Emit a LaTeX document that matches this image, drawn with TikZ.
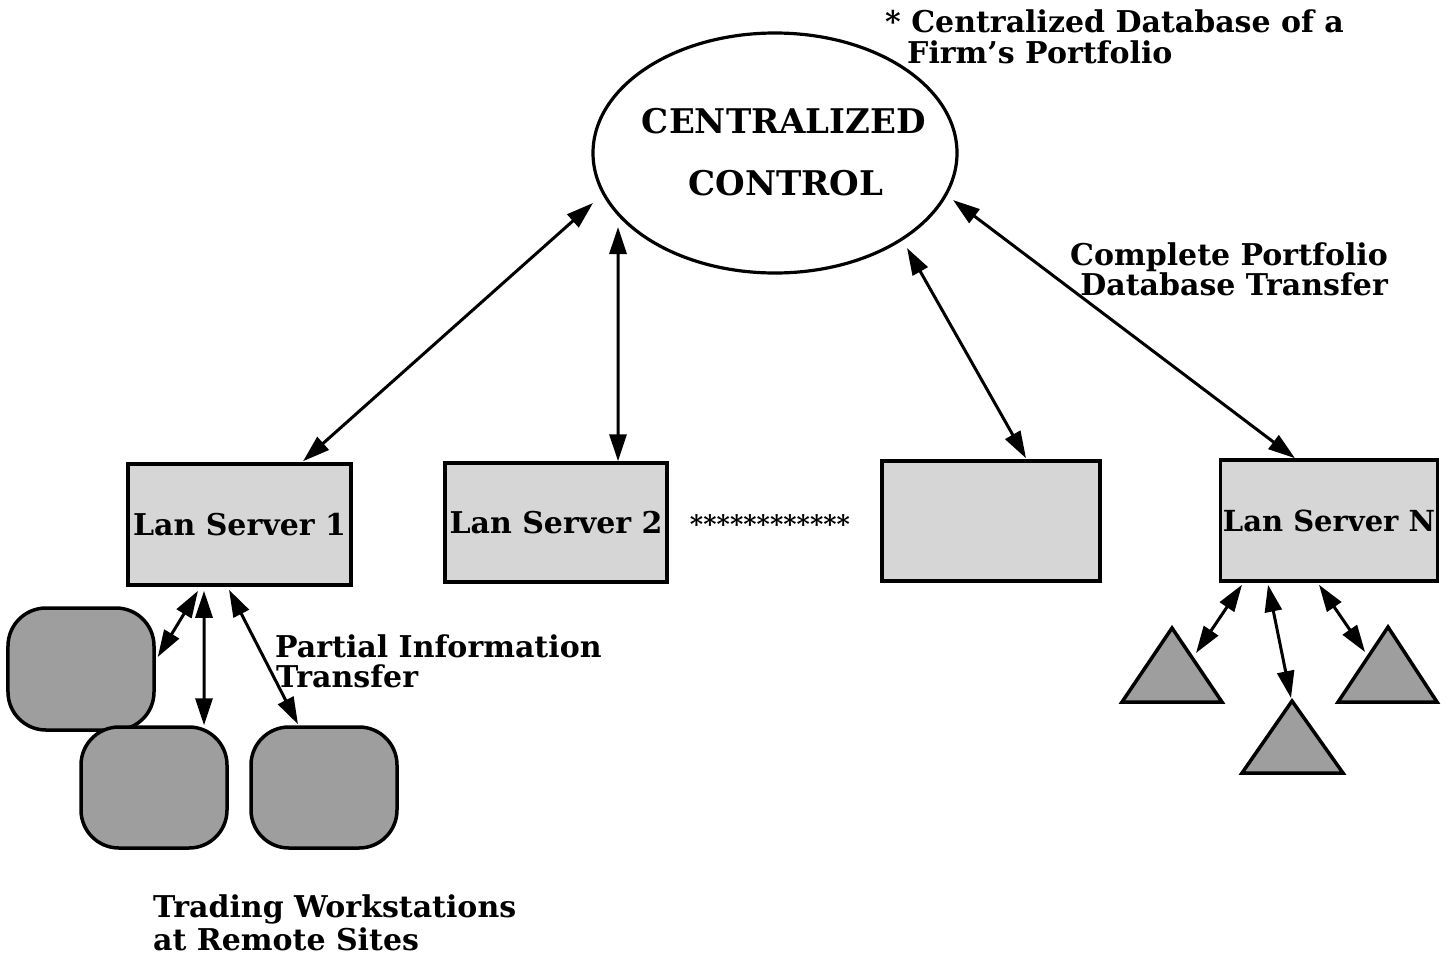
\documentclass[tikz,border=0pt]{standalone}
\usepackage{fontspec}
\setmainfont{DejaVu Serif}
\usetikzlibrary{arrows.meta,shapes.geometric}
\newcommand\lblfont{\fontsize{30bp}{34bp}\selectfont\bfseries}
\newcommand\srvfont{\fontsize{30bp}{34bp}\selectfont\bfseries}
\newcommand\srvNfont{\fontsize{29bp}{33bp}\selectfont\bfseries}
\newcommand\hdrfont{\fontsize{34bp}{38bp}\selectfont\bfseries}
\newcommand\starfont{\fontsize{25.5bp}{28bp}\selectfont\bfseries}
\definecolor{lightfill}{gray}{0.84}
\definecolor{darkfill}{gray}{0.62}
\tikzset{
  >={Triangle[length=27bp,width=17bp]},
  conn/.style={<->,line width=3bp},
  server/.style={draw,line width=3.5bp,fill=lightfill,rectangle,inner sep=0pt,font=\srvfont},
  station/.style={draw,line width=3.5bp,fill=darkfill,rectangle,rounded corners=38bp,inner sep=0pt},
  tri/.style={draw,line width=3.5bp,fill=darkfill,line join=miter},
  txt/.style={inner sep=0pt,font=\lblfont},
}
\begin{document}
\begin{tikzpicture}[x=1bp,y=-1bp]
\useasboundingbox[fill=white] (0,0) rectangle (1455,958);

% central control
\node[draw,ellipse,line width=3.2bp,minimum width=364bp,minimum height=240bp,inner sep=0pt] (ctrl) at (775,153) {};
\node[inner sep=0pt,font=\hdrfont,anchor=base] (ctrlA) at (784,133) {CENTRALIZED};
\node[inner sep=0pt,font=\hdrfont,anchor=base] (ctrlB) at (786,195) {CONTROL};

\node[txt,anchor=base west] (noteA) at (885,32) {* Centralized Database of a};
\node[txt,anchor=base west] (noteB) at (907,63) {Firm's Portfolio};

% servers
\node[server,minimum width=223bp,minimum height=121bp] (ls1) at (239.5,524.5) {Lan Server 1};
\node[server,minimum width=222bp,minimum height=119bp] (ls2) at (556,522.5) {Lan Server 2};
\node[server,minimum width=218bp,minimum height=120bp] (ls3) at (991,521) {};
\node[server,font=\srvNfont,minimum width=217bp,minimum height=121bp] (lsN) at (1329,520.5) {Lan Server N};

\node[inner sep=0pt,font=\starfont,anchor=base] (stars) at (770,533) {************};

% control <-> servers
\draw[conn] ([shift={(-182,50)}]ctrl.center) -- ([xshift=63.5bp,yshift=1bp]ls1.north);
\draw[conn] ([shift={(-157,74)}]ctrl.center) -- ([xshift=62bp]ls2.north);
\draw[conn] ([shift={(132,95)}]ctrl.center) -- ([xshift=35bp,yshift=1bp]ls3.north);
\draw[conn] ([shift={(178,47)}]ctrl.center) -- ([xshift=-34bp]lsN.north);

\node[txt,anchor=base east] (cpA) at (1388,265) {Complete Portfolio};
\node[txt,anchor=base east] (cpB) at (1388,295) {Database Transfer};

% workstations
\node[station,minimum width=146bp,minimum height=122bp] (w1) at (81,669) {};
\node[station,minimum width=146bp,minimum height=121bp] (w2) at (154,787.5) {};
\node[station,minimum width=146bp,minimum height=121bp] (w3) at (324,787.5) {};

\draw[conn] ([xshift=-41.5bp,yshift=-4bp]ls1.south) -- ([xshift=2bp,yshift=12bp]w1.east);
\draw[conn] ([xshift=-35.5bp,yshift=-4bp]ls1.south) -- ([xshift=50bp]w2.north);
\draw[conn] ([xshift=-10.5bp,yshift=-3bp]ls1.south) -- ([xshift=-26bp,yshift=1bp]w3.north);

\node[txt,anchor=base west] (piA) at (275,657) {Partial Information};
\node[txt,anchor=base west] (piB) at (276,687) {Transfer};

\node[txt,anchor=base west] (twA) at (153,917) {Trading Workstations};
\node[txt,anchor=base west] (twB) at (153,950) {at Remote Sites};

% triangles
\coordinate (t1) at (1172,628);
\coordinate (t2) at (1292,701);
\coordinate (t3) at (1388,627);
\draw[tri] (t1) -- ++(50,74) -- ++(-100,0) -- cycle;
\draw[tri] (t2) -- ++(51,72) -- ++(-101,0) -- cycle;
\draw[tri] (t3) -- ++(49,75) -- ++(-99,0) -- cycle;

\draw[conn] ([xshift=-87bp,yshift=-2bp]lsN.south) -- ([shift={(24,25)}]t1);
\draw[conn] ([xshift=-61bp,yshift=-2bp]lsN.south) -- ([shift={(-1,-3)}]t2);
\draw[conn] ([xshift=-10bp,yshift=-2bp]lsN.south) -- ([shift={(-23,25)}]t3);
\end{tikzpicture}
\end{document}
